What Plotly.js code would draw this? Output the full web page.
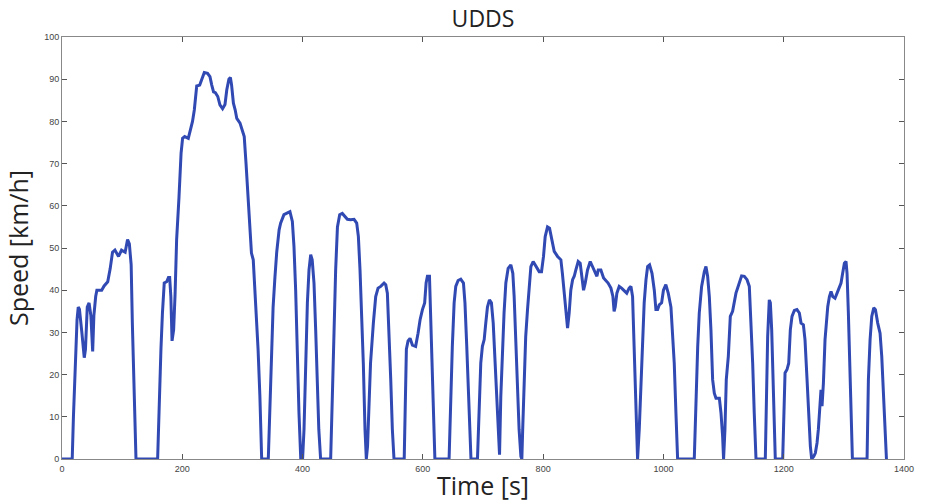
<!DOCTYPE html>
<html>
<head>
<meta charset="utf-8">
<script src="https://cdn.plot.ly/plotly-3.0.1.min.js"></script>
<style>html,body{margin:0;padding:0;background:#fff;}#chart{width:927px;height:504px;}</style>
</head>
<body>
<div id="chart"></div>
<script>
const chartTitle = 'UDDS';
const xTitle = 'Time [s]';
const yTitle = 'Speed [km/h]';
const xTicks = [0, 200, 400, 600, 800, 1000, 1200, 1400];
const yTicks = [0, 10, 20, 30, 40, 50, 60, 70, 80, 90, 100];

const time_s = [
0,17,19,22.7,25,27,29,33,37,39,42,45,48,51,53,56,58,66,70,76,80,84,88,94,99,105,109,112,115,117,119,121,123,
159,161,164.5,167,170,174,177,179,181,183,185.6,188,190.6,194.5,198,200.5,204,210,214,217,220,222,224,229,232,236.6,242,246,249,252,255,259,262.6,267,271,274,277.5,280,282,285,288,290.6,296,300,303,306,308.6,312.5,315,318,320.8,323.5,326,329,332,
343,345.7,348.5,351,354,357,361,363.5,369,374.6,379,383,385.7,388.5,391,394,397,400,
402.4,405,408,410.7,413.5,416,419,421.8,424.5,427,430,
446.7,449.5,452,455,458,461.7,466,470,474.5,480,485.6,490,492.8,495.5,498.3,501,503.8,506,
508,510.5,513,517.7,521.6,525.5,530,535.5,538.3,541,543.8,546.6,549.3,552,
569,570.4,572.6,575.4,578.7,582.6,588,592,595.4,599.3,603,605.4,607.6,611,613,615.3,617.5,620,
643.6,646.4,649,652,654.7,658.6,663,667.5,670,673,675.8,678.5,680,
690.8,693.5,696.3,699,702,704.6,707.4,710.7,714,717,719.6,723,725.7,727.5,
729.6,732.4,735,738,741.8,746.3,749.6,751.8,754.6,757.4,760,763,764.6,
766,768.5,771,774,776.8,779.6,783.4,788,793.4,797.3,800.6,803.4,807.3,810.6,814,818.4,824,829.5,832,835,837.8,840.6,843.3,846,849,851.7,854.4,858.3,861.6,864,867.2,870,873.8,878.3,882,886,889.4,891.6,896,900.5,904.3,908,912.7,916,918,919.9,922.6,926.5,930.4,934.8,939,943,946,948.7,951.5,954.2,957,
959.8,962.6,965.3,968,971,973.7,977,981,984.8,987.5,990.3,993,997,1000,1004,1008,1012.5,1015,1018,1020.8,1023.6,
1051.3,1054,1057,1059.6,1063.5,1068,1070.7,1073.5,1076.3,1079,1081.8,1084.6,1087.4,1093,1095.7,1098.4,1100,
1102.3,1104.5,1107.9,1111.2,1115,1117.9,1120.6,1123.4,1126.2,1130,1134.5,1139,1142.8,1145.6,1148.4,1151,1153.9,
1169.4,1171.7,1173.3,1176,1177.8,1180,1182.2,1184.4,1186,
1198.3,1200,1202.2,1205.5,1208.3,1211,1213.8,1217.7,1222,1226,1228.8,1232.7,1235.4,1238.8,1241.5,1244.3,1246.5,
1249.9,1252.6,1255.4,1257.6,1259.8,1262,1263.7,1266,1268.7,1271,1273.2,1276,1278.7,1281.5,1285.3,1288.7,1291.4,1295.3,1298,1300.9,1303.6,1305.3,1307.5,1309.8,1312,1314.2,
1338.6,1340.8,1343.6,1346.4,1349.7,1352.5,1356.3,1360.2,1363,1366.3,1369,1370.8
];

const speed_kmh = [
0,0,10,27.5,33,36,35.5,30,24,26,36,37,34,25.5,34,38.5,40,40,41,42,45,49,49.5,48,49.5,49,52,51,46,32,19,7,0,
0,11,26,34.6,41.7,42,43,43,38.5,28,30.6,39,52,62,72.5,76,76.4,76,78,80,82.7,86.3,88.4,88.6,89.8,91.6,91.4,90.6,88.6,87,86.8,85.9,83.9,83,84,87.5,90,90.4,88.6,84.3,82.7,80.7,79.6,78,76.4,70,63,54.3,48.8,47.2,40,30.6,26,15,0,
0,11,24.3,36,43,49,54.3,55.9,57.9,58.4,58.6,56.3,50.4,40,26,11,0,0,
7,22.7,37,44.8,48.4,47.2,41.7,30.6,18.8,7,0,
0,14.8,30.6,44.8,55,57.9,58.2,57.5,56.8,56.7,56.8,55.9,52.7,44.8,34.6,22.7,7,0,
3,13.3,22.7,32.2,38.5,40.5,40.9,41.7,41.3,39.3,30.6,18.8,7,0,
0,14.8,26,28,28.6,27,26.7,29.8,33,35.4,37,41.7,43.3,43.3,34.6,22.7,10.9,0,
0,14.8,26.7,37,40.9,42.3,42.6,41.7,37,26.7,14.8,3,0,
0,10.9,22.7,26.7,28.3,32.2,36,37.7,37,32.2,24.3,14.8,7,1,
14.8,26.7,34.6,41.7,45.2,46,44,38.5,26.7,14.8,7,0.6,0,
7,18.8,29,35.4,41.7,45.6,46.8,45.6,44.4,44.4,48,52.7,55,54.7,52,49.2,48,47.2,44,39.3,34.6,31,34.6,40,42.5,43.3,44.8,46.8,46.4,43.3,40,41.7,44.8,46.8,45.6,44,43.3,44.8,44.8,42.9,42.3,41.7,40.5,38.5,35,36.1,39.3,40.9,40.5,40,39.3,40.5,40.9,38.5,26.7,10.9,0,
7,18.8,29,37,42.5,45.6,46,44,40,35.4,35.4,36.5,37,40,41.3,39.3,36,30.6,22.7,10.9,0,
0,14.8,26.7,34.6,40.9,44.4,45.6,43.3,38.5,30.6,18.8,15.6,14.4,14.4,10.9,5.4,0,
7,18.8,24.3,33.8,35,37.7,39.3,40.5,42,43.4,43.3,42.5,40.9,33,22.7,10.9,0,
0,14.8,29,37.7,37,30.6,18.8,7,0,
0,10.9,20.4,21.2,22.7,30.6,33.8,35.2,35.4,34.6,32.2,31.8,28.3,18.8,10.9,3,0,
0.6,1.4,3.8,7,13.3,16.4,12.5,18,28.3,33.8,36.1,38.5,39.7,38.5,38.1,39.3,40.5,41.7,44,46.4,46.8,44,34.6,22.7,10.9,0,
0,18.8,28.3,33.8,35.8,35.4,32.2,29.8,24.3,13.3,3,0
];

const trace = {
  x: time_s, y: speed_kmh, type: 'scatter', mode: 'lines',
  line: {color: '#3149b3', width: 3}, hoverinfo: 'skip'
};

const tickFont = {family: 'Liberation Sans, Arial, sans-serif', size: 9, color: '#444'};
const titleFamily = 'Open Sans, Noto Sans, sans-serif';

const layout = {
  width: 927, height: 504,
  margin: {l: 62, r: 23, t: 37, b: 45, pad: 0},
  paper_bgcolor: '#fff', plot_bgcolor: '#fff',
  showlegend: false,
  title: {text: chartTitle, font: {family: titleFamily, size: 23, color: '#222'},
          x: 0.5, xref: 'paper', xanchor: 'center', y: 1 - 19 / 504, yref: 'container', yanchor: 'middle'},
  xaxis: {
    range: [0, 1400], tickvals: xTicks, ticktext: xTicks.map(String),
    ticks: 'inside', ticklen: 5, tickcolor: '#555', tickwidth: 1,
    showline: true, linecolor: '#888', linewidth: 1, mirror: 'ticks',
    showgrid: false, zeroline: false, tickfont: tickFont, ticklabelstandoff: 1,
    title: {text: xTitle, font: {family: titleFamily, size: 25, color: '#222'}, standoff: 4}
  },
  yaxis: {
    range: [0, 100], tickvals: yTicks, ticktext: yTicks.map(String),
    ticks: 'inside', ticklen: 5, tickcolor: '#555', tickwidth: 1,
    showline: true, linecolor: '#888', linewidth: 1, mirror: 'ticks',
    showgrid: false, zeroline: false, tickfont: tickFont,
    title: {text: yTitle, font: {family: titleFamily, size: 25, color: '#222'}, standoff: 8}
  }
};

Plotly.newPlot('chart', [trace], layout, {displayModeBar: false, staticPlot: true});
</script>
</body>
</html>
